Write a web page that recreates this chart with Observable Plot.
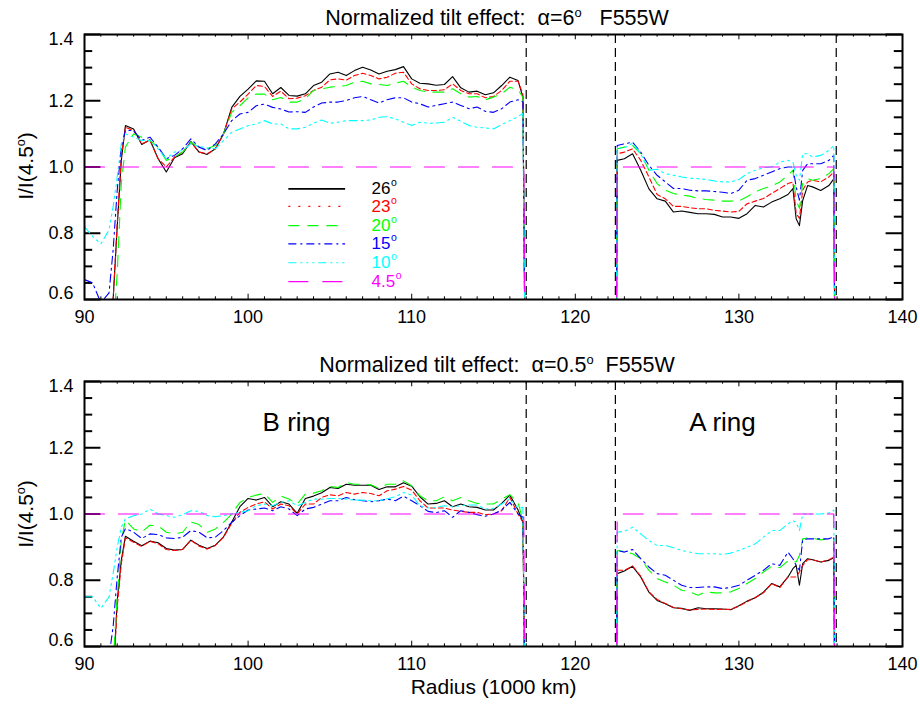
<!DOCTYPE html>
<html><head><meta charset="utf-8">
<script src="https://cdn.jsdelivr.net/npm/d3@7"></script>
<script src="https://cdn.jsdelivr.net/npm/@observablehq/plot@0.6"></script>
<style>
body{margin:0;background:#fff;}
#wrap{position:relative;width:920px;height:704px;background:#fff;font-family:"Liberation Sans",Arial,Helvetica,sans-serif;color:#000;overflow:hidden;}
.panel{position:absolute;left:0;}
.lbl{position:absolute;white-space:pre;line-height:1;transform:translate(-50%,-50%);}
.lbl sup{font-size:0.6em;vertical-align:0;position:relative;top:-0.6em;}
</style></head><body>
<div id="wrap">
  <div id="p1" class="panel" style="top:0px"></div>
  <div id="p2" class="panel" style="top:347px"></div>
  <div class="lbl" style="left:497px;top:19px;font-size:21.5px">Normalized tilt effect:  α=6<sup>o</sup>   F555W</div>
  <div class="lbl" style="left:497px;top:366px;font-size:21.5px">Normalized tilt effect:  α=0.5<sup>o</sup>  F555W</div>
  <div class="lbl" style="left:25px;top:166px;font-size:21px;transform:translate(-50%,-50%) rotate(-90deg)">I/I(4.5<sup>o</sup>)</div>
  <div class="lbl" style="left:25px;top:514px;font-size:21px;transform:translate(-50%,-50%) rotate(-90deg)">I/I(4.5<sup>o</sup>)</div>
</div>
<script>
// ---------------- data ----------------
const seriesLabels = ["26", "23", "20", "15", "10", "4.5"];
const seriesColors = ["#000000", "#ff0000", "#00ff00", "#0000ff", "#00ffff", "#ff00ff"];
const seriesDash   = [null, "5,3", "11,8", "8,4,2,4", "8,4,2,4,2,4,2,4", "20,14"];
const legendDash   = [null, "2,8", "11,8", "8,4,2,4", "8,4,2,4,2,4,2,4", "20,14"];

const xTickLabels = [90, 100, 110, 120, 130, 140];
const yTickLabels = [0.6, 0.8, 1.0, 1.2, 1.4];
const ringEdges = [117.0, 122.45, 135.95];

// B ring radii (1000 km)
const radiusB = [90, 90.5, 91, 91.5, 91.75, 92, 92.25, 92.5,
  93, 93.5, 94, 94.5, 95, 95.5, 96, 96.5, 97, 97.5, 98, 98.5,
  99, 99.5, 100, 100.5, 101, 101.5, 102, 102.5, 103, 103.5,
  104, 104.5, 105, 105.5, 106, 106.5, 107, 107.5, 108, 108.5, 109, 109.5,
  110, 110.5, 111, 111.5, 112, 112.5, 113, 113.5, 114, 114.5, 115, 115.5, 116, 116.5,
  116.8, 116.95];
// A ring radii
const radiusA = [122.5, 122.56, 123, 123.5, 124, 124.5, 125, 125.5, 126, 126.5,
  127, 127.5, 128, 128.5, 129, 129.5, 130, 130.5, 131, 131.5,
  132, 132.5, 133, 133.3, 133.5, 133.7, 133.9, 134.2, 134.5, 135,
  135.5, 135.8, 135.88];

// reference (4.5 deg) series
const refB_r = [90, 116.85, 116.95];
const refB_v = [1.0, 1.0, 0.3];
const refA_r = [122.5, 122.56, 135.8, 135.88];
const refA_v = [0.3, 1.0, 1.0, 0.3];

// ---- top panel (alpha = 6 deg), B ring ----
const topB26 = [0.5,0.5,0.5,0.5,0.6,0.82,1.02,1.125,
  1.115,1.068,1.082,1.025,0.985,1.028,1.04,1.077,1.045,1.038,1.055,1.10,
  1.18,1.213,1.235,1.26,1.259,1.221,1.24,1.216,1.214,1.221,
  1.246,1.256,1.281,1.286,1.276,1.291,1.301,1.293,1.281,1.289,1.294,1.303,
  1.266,1.253,1.251,1.247,1.249,1.273,1.239,1.226,1.229,1.218,1.224,1.246,1.271,1.261,
  1.21,0.3];
const topB23 = [0.5,0.5,0.5,0.5,0.6,0.83,1.03,1.12,
  1.11,1.07,1.08,1.025,1.0,1.03,1.045,1.075,1.045,1.04,1.055,1.10,
  1.175,1.196,1.22,1.246,1.243,1.213,1.229,1.206,1.208,1.215,
  1.231,1.241,1.263,1.266,1.262,1.276,1.283,1.276,1.266,1.271,1.283,1.286,
  1.251,1.236,1.231,1.231,1.233,1.251,1.231,1.221,1.221,1.209,1.213,1.231,1.259,1.259,
  1.22,0.3];
const topB20 = [0.5,0.5,0.5,0.5,0.5,0.68,0.95,1.06,
  1.10,1.09,1.08,1.06,1.02,1.03,1.045,1.075,1.06,1.055,1.065,1.10,
  1.165,1.185,1.209,1.22,1.22,1.203,1.21,1.196,1.196,1.206,
  1.231,1.236,1.241,1.243,1.246,1.256,1.259,1.251,1.249,1.246,1.253,1.259,
  1.241,1.231,1.226,1.226,1.226,1.236,1.221,1.211,1.213,1.203,1.211,1.221,1.241,1.233,
  1.21,0.3];
const topB15 = [0.66,0.65,0.59,0.62,0.75,0.93,1.06,1.11,
  1.11,1.08,1.09,1.06,1.025,1.035,1.055,1.085,1.06,1.05,1.07,1.10,
  1.14,1.16,1.165,1.185,1.19,1.18,1.175,1.166,1.167,1.165,
  1.181,1.193,1.196,1.196,1.201,1.209,1.213,1.203,1.193,1.203,1.209,1.209,
  1.196,1.191,1.181,1.186,1.191,1.196,1.186,1.176,1.181,1.168,1.165,1.176,1.196,1.203,
  1.196,0.3];
const topB10 = [0.82,0.79,0.768,0.81,0.88,0.97,1.07,1.10,
  1.09,1.08,1.08,1.055,1.025,1.045,1.05,1.07,1.062,1.058,1.055,1.08,
  1.105,1.115,1.125,1.13,1.14,1.13,1.13,1.115,1.115,1.12,
  1.132,1.142,1.132,1.135,1.14,1.14,1.14,1.142,1.15,1.152,1.145,1.135,
  1.125,1.135,1.132,1.133,1.135,1.15,1.138,1.125,1.12,1.118,1.115,1.128,1.14,1.152,
  1.162,0.3];

// ---- top panel, A ring ----
const topA26 = [0.3,1.02,1.025,1.04,0.99,0.934,0.904,0.897,0.864,0.867,
  0.863,0.859,0.859,0.857,0.849,0.849,0.845,0.859,0.884,0.879,
  0.894,0.904,0.917,0.935,0.844,0.823,0.899,0.944,0.94,0.929,
  0.944,0.964,0.3];
const topA23 = [0.3,1.04,1.045,1.055,1.02,0.97,0.917,0.904,0.881,0.881,
  0.877,0.874,0.874,0.869,0.867,0.864,0.866,0.889,0.897,0.905,
  0.92,0.935,0.95,0.955,0.86,0.845,0.93,0.955,0.96,0.955,
  0.97,0.985,0.3];
const topA20 = [0.3,1.055,1.06,1.065,1.04,0.99,0.95,0.93,0.92,0.915,
  0.912,0.905,0.902,0.9,0.897,0.897,0.898,0.91,0.925,0.935,
  0.942,0.955,0.975,0.99,0.9,0.875,0.95,0.965,0.96,0.965,
  0.98,0.995,0.3];
const topA15 = [0.3,1.065,1.07,1.075,1.045,1.005,0.975,0.955,0.935,0.935,
  0.93,0.928,0.928,0.926,0.924,0.92,0.93,0.96,0.965,0.975,
  0.985,0.995,1.0,1.0,0.94,0.9,0.99,1.01,1.01,1.01,
  1.02,1.035,0.3];
const topA10 = [0.3,1.055,1.058,1.072,1.04,0.99,0.993,0.98,0.975,0.97,
  0.966,0.965,0.962,0.958,0.955,0.955,0.962,0.98,0.99,0.998,
  1.0,1.015,1.02,1.015,0.975,0.96,1.04,1.04,1.03,1.035,
  1.05,1.065,0.3];

// ---- bottom panel (alpha = 0.5 deg), B ring ----
const botB26 = [0.5,0.5,0.5,0.5,0.5,0.739,0.86,0.933,
  0.918,0.904,0.918,0.913,0.896,0.891,0.893,0.921,0.906,0.896,0.906,0.931,
  0.976,1.022,1.047,1.042,1.05,1.022,1.037,1.03,1.002,1.047,
  1.054,1.064,1.08,1.077,1.09,1.087,1.087,1.087,1.074,1.082,1.082,1.094,
  1.084,1.052,1.03,1.032,1.04,1.022,1.03,1.022,1.02,1.012,1.012,1.032,1.057,1.012,
  0.976,0.3];
const botB23 = [0.5,0.5,0.5,0.5,0.5,0.72,0.85,0.928,
  0.915,0.902,0.918,0.91,0.893,0.89,0.893,0.921,0.903,0.894,0.905,0.93,
  0.972,1.005,1.02,1.03,1.037,1.015,1.03,1.025,1.0,1.03,
  1.03,1.05,1.058,1.055,1.065,1.06,1.065,1.062,1.055,1.07,1.075,1.083,
  1.072,1.04,1.018,1.018,1.018,1.012,1.008,1.005,1.005,0.998,1.0,1.01,1.05,1.0,
  0.975,0.3];
const botB20 = [0.5,0.5,0.5,0.5,0.55,0.75,0.92,0.982,
  0.955,0.946,0.966,0.964,0.945,0.94,0.945,0.976,0.968,0.945,0.955,0.975,
  1.0,1.035,1.05,1.057,1.062,1.035,1.054,1.045,1.03,1.06,
  1.063,1.07,1.083,1.08,1.095,1.09,1.09,1.088,1.078,1.09,1.09,1.1,
  1.085,1.055,1.04,1.04,1.052,1.04,1.05,1.04,1.032,1.03,1.03,1.045,1.058,1.035,
  0.98,0.3];
const botB15 = [0.5,0.5,0.5,0.57,0.66,0.81,0.93,0.956,
  0.945,0.926,0.94,0.938,0.928,0.926,0.93,0.95,0.945,0.928,0.93,0.95,
  0.975,0.995,1.012,1.015,1.018,1.01,1.022,1.015,0.995,1.015,
  1.02,1.03,1.04,1.04,1.05,1.043,1.04,1.037,1.04,1.045,1.04,1.054,
  1.04,1.025,1.008,1.004,1.01,0.99,1.01,1.005,0.998,0.993,1.0,1.012,1.035,1.0,
  0.99,0.3];
const botB10 = [0.75,0.75,0.715,0.75,0.82,0.9,0.96,0.985,
  0.995,1.0,1.015,1.0,0.995,0.99,0.998,1.01,1.008,0.995,0.992,0.995,
  1.0,1.005,1.01,1.025,1.03,1.025,1.035,1.04,1.025,1.035,
  1.045,1.045,1.047,1.047,1.045,1.042,1.042,1.04,1.04,1.046,1.052,1.065,
  1.057,1.025,1.018,1.02,1.025,1.022,1.025,1.027,1.027,1.015,1.017,1.03,1.046,1.018,
  1.02,0.3];

// ---- bottom panel, A ring ----
const botA26 = [0.3,0.82,0.828,0.842,0.81,0.764,0.739,0.729,0.717,0.715,
  0.709,0.717,0.714,0.714,0.713,0.711,0.723,0.737,0.747,0.764,
  0.79,0.78,0.81,0.835,0.845,0.785,0.85,0.865,0.862,0.855,
  0.86,0.868,0.3];
const botA23 = [0.3,0.83,0.83,0.843,0.812,0.765,0.742,0.73,0.718,0.714,
  0.71,0.712,0.713,0.712,0.712,0.712,0.722,0.735,0.748,0.762,
  0.79,0.778,0.81,0.81,0.81,0.825,0.845,0.862,0.862,0.855,
  0.862,0.87,0.3];
const botA20 = [0.3,0.89,0.887,0.88,0.865,0.83,0.805,0.795,0.785,0.77,
  0.765,0.755,0.765,0.762,0.762,0.765,0.775,0.79,0.805,0.825,
  0.842,0.838,0.858,0.86,0.855,0.875,0.925,0.928,0.927,0.922,
  0.925,0.925,0.3];
const botA15 = [0.3,0.89,0.885,0.893,0.865,0.84,0.82,0.815,0.8,0.785,
  0.778,0.778,0.78,0.78,0.775,0.778,0.785,0.8,0.815,0.83,
  0.85,0.845,0.885,0.865,0.845,0.83,0.922,0.925,0.925,0.925,
  0.925,0.932,0.3];
const botA10 = [0.3,0.945,0.948,0.96,0.94,0.92,0.905,0.905,0.898,0.89,
  0.885,0.88,0.88,0.88,0.878,0.882,0.89,0.9,0.91,0.93,
  0.95,0.95,0.97,0.98,0.975,0.95,1.0,1.0,1.0,1.0,
  1.003,1.012,0.3];

// legend (top panel) and ring annotations (bottom panel), in data units
const legendLineX = [102.49, 105.96];
const legendTextX = 107.55;
const legendY = [0.934, 0.881, 0.823, 0.768, 0.711, 0.654];
const ringNames = ["B ring", "A ring"];
const ringNameX = [102.96, 129.0];
const ringNameY = 1.275;

// ---------------- drawing ----------------
const FONT = '"Liberation Sans", Arial, Helvetica, sans-serif';
const TICK_FS = 18, LEG_FS = 17;
const ML = 84, MR = 18, MT = 34, FH = 265, FW = 920 - ML - MR;
const xMinor = d3.range(90, 141, 1).filter(d => d % 10 !== 0);
const yMinor = d3.range(0, 17).map(i => 0.6 + i * 0.05).filter((d, i) => i % 4 !== 0);

function textWidth(s, size) {
  let w = 0;
  for (const c of s) w += (c === "." ? 0.278 : 0.556);
  return w * size;
}

function makePanel(opts) {
  const marks = [];
  // ticks (inward, on all four sides)
  marks.push(Plot.tickX(xTickLabels, {x: d => d, insetTop: FH - 5.3, stroke: "black", strokeWidth: 1}));
  marks.push(Plot.tickX(xTickLabels, {x: d => d, insetBottom: FH - 5.3, stroke: "black", strokeWidth: 1}));
  marks.push(Plot.tickX(xMinor, {x: d => d, insetTop: FH - 2.7, stroke: "black", strokeWidth: 1}));
  marks.push(Plot.tickX(xMinor, {x: d => d, insetBottom: FH - 2.7, stroke: "black", strokeWidth: 1}));
  marks.push(Plot.tickY(yTickLabels, {y: d => d, insetRight: FW - 16.4, stroke: "black", strokeWidth: 2}));
  marks.push(Plot.tickY(yTickLabels, {y: d => d, insetLeft: FW - 16.4, stroke: "black", strokeWidth: 2}));
  marks.push(Plot.tickY(yMinor, {y: d => d, insetRight: FW - 8.2, stroke: "black", strokeWidth: 2}));
  marks.push(Plot.tickY(yMinor, {y: d => d, insetLeft: FW - 8.2, stroke: "black", strokeWidth: 2}));
  // ring edge dashed lines
  marks.push(Plot.ruleX(ringEdges, {x: d => d, stroke: "black", strokeWidth: 1.2, strokeDasharray: "9,5"}));
  // series
  opts.seriesB.forEach((vals, i) => {
    marks.push(Plot.line(vals, {x: radiusB, y: vals, stroke: seriesColors[i], strokeWidth: 1.1,
      strokeDasharray: seriesDash[i], clip: true}));
  });
  opts.seriesA.forEach((vals, i) => {
    marks.push(Plot.line(vals, {x: radiusA, y: vals, stroke: seriesColors[i], strokeWidth: 1.1,
      strokeDasharray: seriesDash[i], clip: true}));
  });
  marks.push(Plot.line(refB_v, {x: refB_r, y: refB_v, stroke: seriesColors[5], strokeWidth: 1.1, strokeDasharray: seriesDash[5], clip: true}));
  marks.push(Plot.line(refA_v, {x: refA_r, y: refA_v, stroke: seriesColors[5], strokeWidth: 1.1, strokeDasharray: seriesDash[5], clip: true}));
  // frame
  marks.push(Plot.frame({stroke: "black", strokeWidth: 2}));
  // tick labels
  marks.push(Plot.text(xTickLabels, {x: d => d, text: d => String(d), frameAnchor: "bottom", lineAnchor: "top", dy: 10.5, fontSize: TICK_FS}));
  marks.push(Plot.text(yTickLabels.slice(1, 4), {y: d => d, text: d => d.toFixed(1), frameAnchor: "left", textAnchor: "end", dx: -11, fontSize: TICK_FS}));
  marks.push(Plot.text([yTickLabels[4]], {y: d => d, text: d => d.toFixed(1), frameAnchor: "left", textAnchor: "end", dx: -11, dy: 5, fontSize: TICK_FS}));
  marks.push(Plot.text([yTickLabels[0]], {y: d => d, text: d => d.toFixed(1), frameAnchor: "left", textAnchor: "end", dx: -11, dy: -6, fontSize: TICK_FS}));
  if (opts.legend) {
    seriesLabels.forEach((lab, i) => {
      marks.push(Plot.ruleY([legendY[i]], {y: d => d, x1: () => legendLineX[0], x2: () => legendLineX[1],
        stroke: seriesColors[i], strokeWidth: i === 0 ? 1.8 : 1.2, strokeDasharray: legendDash[i]}));
      marks.push(Plot.text([lab], {x: () => legendTextX, y: () => legendY[i], text: d => d, fill: seriesColors[i],
        textAnchor: "start", fontSize: LEG_FS}));
      marks.push(Plot.text(["o"], {x: () => legendTextX, y: () => legendY[i], text: d => d, fill: seriesColors[i],
        textAnchor: "start", fontSize: 10.5, dx: textWidth(lab, LEG_FS) + 0.5, dy: -6}));
    });
  }
  if (opts.ringLabels) {
    marks.push(Plot.text(ringNames, {x: (d, i) => ringNameX[i], y: () => ringNameY, text: d => d, fontSize: 26}));
  }
  if (opts.xlabel) {
    marks.push(Plot.text([opts.xlabel], {frameAnchor: "bottom", text: d => d, dy: 47, fontSize: 21}));
  }
  return Plot.plot({
    width: 920, height: opts.height,
    marginLeft: ML, marginRight: MR, marginTop: MT, marginBottom: opts.height - MT - FH,
    x: {domain: [90, 140], axis: null},
    y: {domain: [0.6, 1.4], axis: null},
    style: {fontFamily: FONT, fontSize: "18px", color: "black", background: "transparent", overflow: "visible"},
    marks
  });
}

document.getElementById("p1").appendChild(makePanel({
  height: 330,
  seriesB: [topB26, topB23, topB20, topB15, topB10],
  seriesA: [topA26, topA23, topA20, topA15, topA10],
  legend: true
}));
document.getElementById("p2").appendChild(makePanel({
  height: 357,
  seriesB: [botB26, botB23, botB20, botB15, botB10],
  seriesA: [botA26, botA23, botA20, botA15, botA10],
  ringLabels: true,
  xlabel: "Radius (1000 km)"
}));
</script>
</body></html>
